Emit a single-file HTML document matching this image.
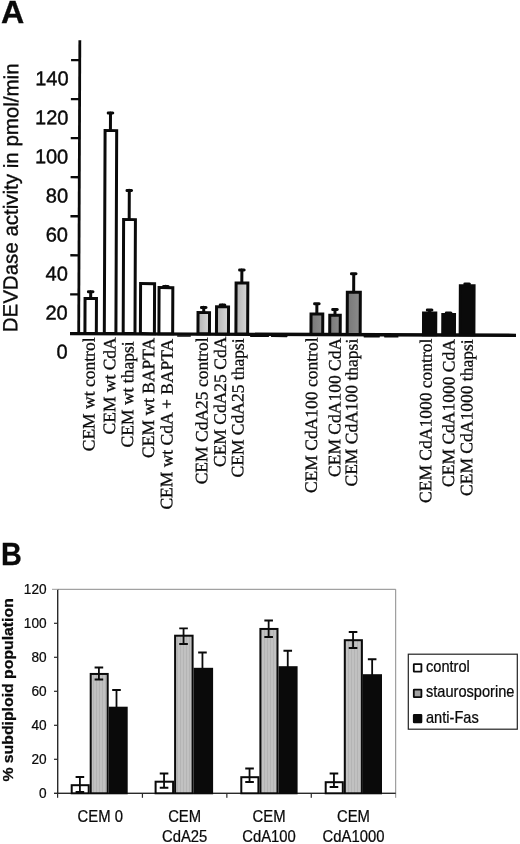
<!DOCTYPE html>
<html><head><meta charset="utf-8"><title>Figure</title>
<style>
html,body{margin:0;padding:0;background:#fff;}
body{width:520px;height:844px;overflow:hidden;}
svg{display:block;}
.sans{font-family:"Liberation Sans",Arial,Helvetica,sans-serif;}
.serif{font-family:"Liberation Serif","Times New Roman",Times,serif;}
</style></head><body>
<svg width="520" height="844" viewBox="0 0 520 844">
<defs>
<linearGradient id="lg" x1="0" x2="1" y1="0" y2="0"><stop offset="0" stop-color="#b4b4b4"/><stop offset="1" stop-color="#d8d8d8"/></linearGradient>
<linearGradient id="mg" x1="0" x2="1" y1="0" y2="0"><stop offset="0" stop-color="#787878"/><stop offset="1" stop-color="#8c8c8c"/></linearGradient>
<pattern id="st" width="3" height="4" patternUnits="userSpaceOnUse"><rect width="3" height="4" fill="#c1c1c1"/><rect width="1" height="4" fill="#b4b4b4"/></pattern>
</defs>
<rect width="520" height="844" fill="#fff"/>
<text class="sans" transform="translate(1.00,23.20)" font-size="32.2" font-weight="bold" fill="#0a0a0a" stroke="#0a0a0a" stroke-width="0.3">A</text>
<g id="panelA" transform="rotate(0.22 78.7 333.35)">
<text class="sans" transform="translate(17.30,332.54) rotate(-90)" font-size="20.5" fill="#0a0a0a" stroke="#0a0a0a" stroke-width="0.35">DEVDase activity in pmol/min</text>
<rect x="77.30" y="40.3" width="2.8" height="294.3" fill="#0a0a0a"/>
<text class="sans" transform="translate(67.60,358.65)" font-size="20" text-anchor="end" fill="#0a0a0a" stroke="#0a0a0a" stroke-width="0.4">0</text>
<rect x="70" y="293.17" width="9" height="2.3" fill="#0a0a0a"/>
<text class="sans" transform="translate(67.60,319.62)" font-size="20" text-anchor="end" fill="#0a0a0a" stroke="#0a0a0a" stroke-width="0.4">20</text>
<rect x="70" y="254.14" width="9" height="2.3" fill="#0a0a0a"/>
<text class="sans" transform="translate(67.60,280.59)" font-size="20" text-anchor="end" fill="#0a0a0a" stroke="#0a0a0a" stroke-width="0.4">40</text>
<rect x="70" y="215.11" width="9" height="2.3" fill="#0a0a0a"/>
<text class="sans" transform="translate(67.60,241.56)" font-size="20" text-anchor="end" fill="#0a0a0a" stroke="#0a0a0a" stroke-width="0.4">60</text>
<rect x="70" y="176.08" width="9" height="2.3" fill="#0a0a0a"/>
<text class="sans" transform="translate(67.60,202.53)" font-size="20" text-anchor="end" fill="#0a0a0a" stroke="#0a0a0a" stroke-width="0.4">80</text>
<rect x="70" y="137.05" width="9" height="2.3" fill="#0a0a0a"/>
<text class="sans" transform="translate(67.60,163.50)" font-size="20" text-anchor="end" fill="#0a0a0a" stroke="#0a0a0a" stroke-width="0.4">100</text>
<rect x="70" y="98.02" width="9" height="2.3" fill="#0a0a0a"/>
<text class="sans" transform="translate(67.60,124.47)" font-size="20" text-anchor="end" fill="#0a0a0a" stroke="#0a0a0a" stroke-width="0.4">120</text>
<rect x="70" y="58.99" width="9" height="2.3" fill="#0a0a0a"/>
<text class="sans" transform="translate(67.60,85.44)" font-size="20" text-anchor="end" fill="#0a0a0a" stroke="#0a0a0a" stroke-width="0.4">140</text>
<rect x="70" y="331.95" width="446" height="3.3" fill="#0a0a0a"/>
<rect x="177" y="334.85" width="14" height="1.5" rx="0.7" fill="#0a0a0a"/>
<rect x="250" y="334.85" width="19" height="1.5" rx="0.7" fill="#0a0a0a"/>
<rect x="271" y="334.85" width="16.5" height="1.5" rx="0.7" fill="#0a0a0a"/>
<rect x="363.5" y="334.85" width="16.5" height="1.5" rx="0.7" fill="#0a0a0a"/>
<rect x="384" y="334.85" width="14.5" height="1.5" rx="0.7" fill="#0a0a0a"/>
<rect x="84.93" y="298.55" width="11.40" height="34.80" fill="#fff" stroke="#0a0a0a" stroke-width="3.0"/>
<path d="M90.54 298.05V291.50M88.24 291.60H92.84" stroke="#0a0a0a" stroke-width="3.0" stroke-linecap="round" fill="none"/>
<rect x="104.31" y="130.48" width="11.60" height="202.87" fill="#fff" stroke="#0a0a0a" stroke-width="3.0"/>
<path d="M109.65 129.98V112.68M107.35 112.78H111.95" stroke="#0a0a0a" stroke-width="3.0" stroke-linecap="round" fill="none"/>
<rect x="123.18" y="219.41" width="11.80" height="113.94" fill="#fff" stroke="#0a0a0a" stroke-width="3.0"/>
<path d="M128.75 218.91V190.11M126.45 190.21H131.05" stroke="#0a0a0a" stroke-width="3.0" stroke-linecap="round" fill="none"/>
<rect x="140.40" y="283.34" width="14.00" height="50.01" fill="#fff" stroke="#0a0a0a" stroke-width="3.0"/>
<rect x="158.91" y="287.27" width="13.75" height="46.08" fill="#fff" stroke="#0a0a0a" stroke-width="3.0"/>
<path d="M165.69 286.77V285.97M163.39 286.07H167.99" stroke="#0a0a0a" stroke-width="3.0" stroke-linecap="round" fill="none"/>
<rect x="197.96" y="312.12" width="11.50" height="21.23" fill="url(#lg)" stroke="#0a0a0a" stroke-width="3.0"/>
<path d="M203.65 311.62V306.82M201.35 306.92H205.95" stroke="#0a0a0a" stroke-width="3.0" stroke-linecap="round" fill="none"/>
<rect x="216.45" y="306.30" width="12.00" height="27.05" fill="url(#lg)" stroke="#0a0a0a" stroke-width="3.0"/>
<path d="M222.39 305.80V304.25M220.09 304.35H224.69" stroke="#0a0a0a" stroke-width="3.0" stroke-linecap="round" fill="none"/>
<rect x="235.90" y="282.47" width="11.75" height="50.88" fill="url(#lg)" stroke="#0a0a0a" stroke-width="3.0"/>
<path d="M241.63 281.97V269.17M239.33 269.27H243.93" stroke="#0a0a0a" stroke-width="3.0" stroke-linecap="round" fill="none"/>
<rect x="310.96" y="313.04" width="11.75" height="20.31" fill="url(#mg)" stroke="#0a0a0a" stroke-width="3.0"/>
<path d="M316.76 312.54V302.74M314.46 302.84H319.06" stroke="#0a0a0a" stroke-width="3.0" stroke-linecap="round" fill="none"/>
<rect x="329.71" y="314.22" width="10.50" height="19.13" fill="url(#mg)" stroke="#0a0a0a" stroke-width="3.0"/>
<path d="M334.90 313.72V308.42M332.60 308.52H337.20" stroke="#0a0a0a" stroke-width="3.0" stroke-linecap="round" fill="none"/>
<rect x="347.17" y="291.14" width="13.00" height="42.21" fill="url(#mg)" stroke="#0a0a0a" stroke-width="3.0"/>
<path d="M353.51 290.64V272.59M351.21 272.69H355.81" stroke="#0a0a0a" stroke-width="3.0" stroke-linecap="round" fill="none"/>
<rect x="423.46" y="311.70" width="12.25" height="21.65" fill="#0a0a0a" stroke="#0a0a0a" stroke-width="3.0"/>
<path d="M429.53 311.20V308.65M427.23 308.75H431.83" stroke="#0a0a0a" stroke-width="3.0" stroke-linecap="round" fill="none"/>
<rect x="442.71" y="313.13" width="11.75" height="20.22" fill="#0a0a0a" stroke="#0a0a0a" stroke-width="3.0"/>
<path d="M448.54 312.63V311.58M446.24 311.68H450.84" stroke="#0a0a0a" stroke-width="3.0" stroke-linecap="round" fill="none"/>
<rect x="460.15" y="284.31" width="13.75" height="49.04" fill="#0a0a0a" stroke="#0a0a0a" stroke-width="3.0"/>
<path d="M466.93 283.81V282.51M464.63 282.61H469.23" stroke="#0a0a0a" stroke-width="3.0" stroke-linecap="round" fill="none"/>
<text class="serif" transform="translate(94.86,337.44) rotate(-90)" font-size="17.5" text-anchor="end" fill="#0a0a0a" stroke="#0a0a0a" stroke-width="0.3">CEM wt control</text>
<text class="serif" transform="translate(115.51,337.11) rotate(-90)" font-size="17.5" text-anchor="end" fill="#0a0a0a" stroke="#0a0a0a" stroke-width="0.3">CEM wt CdA</text>
<text class="serif" transform="translate(133.52,341.19) rotate(-90)" font-size="17.5" text-anchor="end" fill="#0a0a0a" stroke="#0a0a0a" stroke-width="0.3">CEM wt thapsi</text>
<text class="serif" transform="translate(154.36,337.46) rotate(-90)" font-size="17.5" text-anchor="end" fill="#0a0a0a" stroke="#0a0a0a" stroke-width="0.3">CEM wt BAPTA</text>
<text class="serif" transform="translate(172.91,338.39) rotate(-90)" font-size="17.5" text-anchor="end" fill="#0a0a0a" stroke="#0a0a0a" stroke-width="0.3">CEM wt CdA + BAPTA</text>
<text class="serif" transform="translate(207.86,337.00) rotate(-90)" font-size="17.5" text-anchor="end" fill="#0a0a0a" stroke="#0a0a0a" stroke-width="0.3">CEM CdA25 control</text>
<text class="serif" transform="translate(226.11,336.13) rotate(-90)" font-size="17.5" text-anchor="end" fill="#0a0a0a" stroke="#0a0a0a" stroke-width="0.3">CEM CdA25 CdA</text>
<text class="serif" transform="translate(243.86,337.77) rotate(-90)" font-size="17.5" text-anchor="end" fill="#0a0a0a" stroke="#0a0a0a" stroke-width="0.3">CEM CdA25 thapsi</text>
<text class="serif" transform="translate(317.46,336.58) rotate(-90)" font-size="17.5" text-anchor="end" fill="#0a0a0a" stroke="#0a0a0a" stroke-width="0.3">CEM CdA100 control</text>
<text class="serif" transform="translate(340.76,336.89) rotate(-90)" font-size="17.5" text-anchor="end" fill="#0a0a0a" stroke="#0a0a0a" stroke-width="0.3">CEM CdA100 CdA</text>
<text class="serif" transform="translate(357.56,337.63) rotate(-90)" font-size="17.5" text-anchor="end" fill="#0a0a0a" stroke="#0a0a0a" stroke-width="0.3">CEM CdA100 thapsi</text>
<text class="serif" transform="translate(431.86,337.29) rotate(-90)" font-size="17.5" text-anchor="end" fill="#0a0a0a" stroke="#0a0a0a" stroke-width="0.3">CEM CdA1000 control</text>
<text class="serif" transform="translate(454.66,337.66) rotate(-90)" font-size="17.5" text-anchor="end" fill="#0a0a0a" stroke="#0a0a0a" stroke-width="0.3">CEM CdA1000 CdA</text>
<text class="serif" transform="translate(472.76,337.89) rotate(-90)" font-size="17.5" text-anchor="end" fill="#0a0a0a" stroke="#0a0a0a" stroke-width="0.3">CEM CdA1000 thapsi</text>
</g>
<g id="panelB">
<text class="sans" transform="translate(1.00,565.10) scale(0.93,1)" font-size="31.0" font-weight="bold" fill="#0a0a0a" stroke="#0a0a0a" stroke-width="0.3">B</text>
<text class="sans" transform="translate(13.00,781.60) rotate(-90) scale(1.076,1)" font-size="14.7" font-weight="bold" fill="#0a0a0a" stroke="#0a0a0a" stroke-width="0.25">% subdiploid population</text>
<path d="M58 589.3H395.7V797.8" stroke="#8a8a8a" stroke-width="1" fill="none"/>
<rect x="57" y="589.3" width="1.4" height="204.0" fill="#2a2a2a"/>
<rect x="54" y="792.5999999999999" width="341.7" height="1.4" fill="#2a2a2a"/>
<text class="sans" transform="translate(46.60,797.50) scale(0.91,1)" font-size="15.0" text-anchor="end" fill="#0a0a0a" stroke="#0a0a0a" stroke-width="0.25">0</text>
<rect x="54" y="758.70" width="4" height="1.2" fill="#2a2a2a"/>
<text class="sans" transform="translate(46.60,763.50) scale(0.91,1)" font-size="15.0" text-anchor="end" fill="#0a0a0a" stroke="#0a0a0a" stroke-width="0.25">20</text>
<rect x="54" y="724.70" width="4" height="1.2" fill="#2a2a2a"/>
<text class="sans" transform="translate(46.60,729.50) scale(0.91,1)" font-size="15.0" text-anchor="end" fill="#0a0a0a" stroke="#0a0a0a" stroke-width="0.25">40</text>
<rect x="54" y="690.70" width="4" height="1.2" fill="#2a2a2a"/>
<text class="sans" transform="translate(46.60,695.50) scale(0.91,1)" font-size="15.0" text-anchor="end" fill="#0a0a0a" stroke="#0a0a0a" stroke-width="0.25">60</text>
<rect x="54" y="656.70" width="4" height="1.2" fill="#2a2a2a"/>
<text class="sans" transform="translate(46.60,661.50) scale(0.91,1)" font-size="15.0" text-anchor="end" fill="#0a0a0a" stroke="#0a0a0a" stroke-width="0.25">80</text>
<rect x="54" y="622.70" width="4" height="1.2" fill="#2a2a2a"/>
<text class="sans" transform="translate(46.60,627.50) scale(0.91,1)" font-size="15.0" text-anchor="end" fill="#0a0a0a" stroke="#0a0a0a" stroke-width="0.25">100</text>
<rect x="52" y="588.80" width="6" height="1" fill="#999"/>
<text class="sans" transform="translate(46.60,593.50) scale(0.91,1)" font-size="15.0" text-anchor="end" fill="#0a0a0a" stroke="#0a0a0a" stroke-width="0.25">120</text>
<rect x="57.00" y="793.3" width="1.2" height="4.5" fill="#2a2a2a"/>
<rect x="141.83" y="793.3" width="1.2" height="4.5" fill="#2a2a2a"/>
<rect x="226.25" y="793.3" width="1.2" height="4.5" fill="#2a2a2a"/>
<rect x="310.67" y="793.3" width="1.2" height="4.5" fill="#2a2a2a"/>
<rect x="71.70" y="785.20" width="17.00" height="8.10" fill="#fff" stroke="#0a0a0a" stroke-width="2.0"/>
<rect x="90.70" y="673.95" width="17.00" height="119.35" fill="url(#st)" stroke="#0a0a0a" stroke-width="2.0"/>
<rect x="109.70" y="707.70" width="17.00" height="85.60" fill="#0a0a0a" stroke="#0a0a0a" stroke-width="2.0"/>
<path d="M79.90 777.00V792.00M75.60 777.00H84.20M75.60 792.00H84.20" stroke="#0a0a0a" stroke-width="1.8" fill="none"/>
<path d="M98.90 667.50V679.50M94.60 667.50H103.20M94.60 679.50H103.20" stroke="#0a0a0a" stroke-width="1.8" fill="none"/>
<path d="M116.50 690.00V707.50M112.20 690.00H120.80" stroke="#0a0a0a" stroke-width="1.8" fill="none"/>
<rect x="155.60" y="781.70" width="17.50" height="11.60" fill="#fff" stroke="#0a0a0a" stroke-width="2.0"/>
<rect x="175.10" y="635.70" width="17.50" height="157.60" fill="url(#st)" stroke="#0a0a0a" stroke-width="2.0"/>
<rect x="194.60" y="668.80" width="17.50" height="124.50" fill="#0a0a0a" stroke="#0a0a0a" stroke-width="2.0"/>
<path d="M164.05 773.50V787.75M159.75 773.50H168.35M159.75 787.75H168.35" stroke="#0a0a0a" stroke-width="1.8" fill="none"/>
<path d="M183.55 628.30V644.00M179.25 628.30H187.85M179.25 644.00H187.85" stroke="#0a0a0a" stroke-width="1.8" fill="none"/>
<path d="M202.45 652.50V668.60M198.15 652.50H206.75" stroke="#0a0a0a" stroke-width="1.8" fill="none"/>
<rect x="241.30" y="777.20" width="17.10" height="16.10" fill="#fff" stroke="#0a0a0a" stroke-width="2.0"/>
<rect x="260.40" y="628.95" width="17.10" height="164.35" fill="url(#st)" stroke="#0a0a0a" stroke-width="2.0"/>
<rect x="279.50" y="667.20" width="17.10" height="126.10" fill="#0a0a0a" stroke="#0a0a0a" stroke-width="2.0"/>
<path d="M249.55 768.50V782.00M245.25 768.50H253.85M245.25 782.00H253.85" stroke="#0a0a0a" stroke-width="1.8" fill="none"/>
<path d="M268.65 620.50V637.00M264.35 620.50H272.95M264.35 637.00H272.95" stroke="#0a0a0a" stroke-width="1.8" fill="none"/>
<path d="M287.75 650.75V667.00M283.45 650.75H292.05" stroke="#0a0a0a" stroke-width="1.8" fill="none"/>
<rect x="325.70" y="782.20" width="17.10" height="11.10" fill="#fff" stroke="#0a0a0a" stroke-width="2.0"/>
<rect x="344.80" y="640.20" width="17.10" height="153.10" fill="url(#st)" stroke="#0a0a0a" stroke-width="2.0"/>
<rect x="363.90" y="675.20" width="17.10" height="118.10" fill="#0a0a0a" stroke="#0a0a0a" stroke-width="2.0"/>
<path d="M333.95 773.50V787.00M329.65 773.50H338.25M329.65 787.00H338.25" stroke="#0a0a0a" stroke-width="1.8" fill="none"/>
<path d="M353.05 632.00V648.00M348.75 632.00H357.35M348.75 648.00H357.35" stroke="#0a0a0a" stroke-width="1.8" fill="none"/>
<path d="M372.15 659.25V675.00M367.85 659.25H376.45" stroke="#0a0a0a" stroke-width="1.8" fill="none"/>
<text class="sans" transform="translate(100.21,821.60) scale(0.94,1)" font-size="15.8" text-anchor="middle" fill="#0a0a0a" stroke="#0a0a0a" stroke-width="0.25">CEM 0</text>
<text class="sans" transform="translate(184.64,821.60) scale(0.94,1)" font-size="15.8" text-anchor="middle" fill="#0a0a0a" stroke="#0a0a0a" stroke-width="0.25">CEM</text>
<text class="sans" transform="translate(184.64,841.80) scale(0.94,1)" font-size="15.8" text-anchor="middle" fill="#0a0a0a" stroke="#0a0a0a" stroke-width="0.25">CdA25</text>
<text class="sans" transform="translate(269.06,821.60) scale(0.94,1)" font-size="15.8" text-anchor="middle" fill="#0a0a0a" stroke="#0a0a0a" stroke-width="0.25">CEM</text>
<text class="sans" transform="translate(269.06,841.80) scale(0.94,1)" font-size="15.8" text-anchor="middle" fill="#0a0a0a" stroke="#0a0a0a" stroke-width="0.25">CdA100</text>
<text class="sans" transform="translate(353.49,821.60) scale(0.94,1)" font-size="15.8" text-anchor="middle" fill="#0a0a0a" stroke="#0a0a0a" stroke-width="0.25">CEM</text>
<text class="sans" transform="translate(353.49,841.80) scale(0.94,1)" font-size="15.8" text-anchor="middle" fill="#0a0a0a" stroke="#0a0a0a" stroke-width="0.25">CdA1000</text>
<rect x="408.3" y="654.2" width="109" height="75.0" fill="#fff" stroke="#222" stroke-width="1.2"/>
<rect x="413.8" y="664.20" width="7.6" height="7.5" rx="0.4" fill="#fff" stroke="#0a0a0a" stroke-width="1.8"/>
<text class="sans" transform="translate(426.00,671.90) scale(0.93,1)" font-size="15.7" fill="#0a0a0a" stroke="#0a0a0a" stroke-width="0.25">control</text>
<rect x="413.8" y="689.70" width="7.6" height="7.5" rx="0.4" fill="#a2a2a2" stroke="#0a0a0a" stroke-width="1.8"/>
<text class="sans" transform="translate(426.00,697.40) scale(0.93,1)" font-size="15.7" fill="#0a0a0a" stroke="#0a0a0a" stroke-width="0.25">staurosporine</text>
<rect x="413.8" y="714.90" width="7.6" height="7.5" rx="0.4" fill="#0a0a0a" stroke="#0a0a0a" stroke-width="1.8"/>
<text class="sans" transform="translate(426.00,722.60) scale(0.93,1)" font-size="15.7" fill="#0a0a0a" stroke="#0a0a0a" stroke-width="0.25">anti-Fas</text>
</g>
</svg>
</body></html>
